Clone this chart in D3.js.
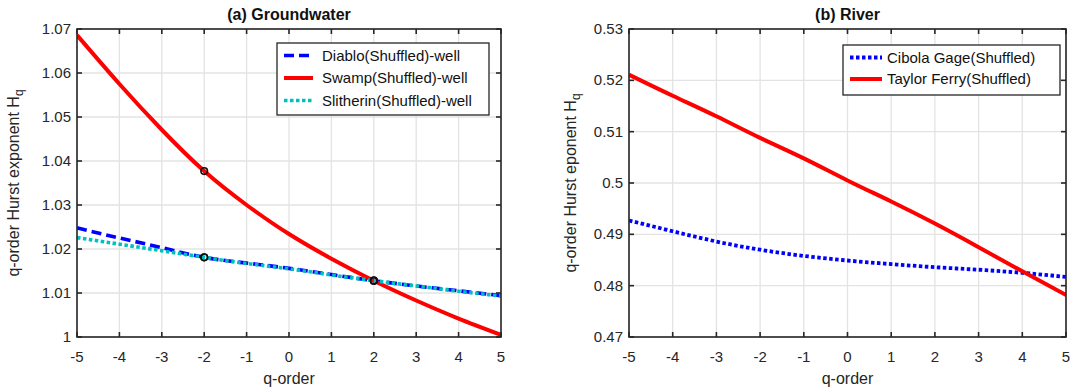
<!DOCTYPE html>
<html>
<head>
<meta charset="utf-8">
<script src="https://cdn.jsdelivr.net/npm/d3@7"></script>
<style>
  body { margin: 0; background: #fff; }
  svg { display: block; font-family: 'Liberation Sans', Arial, sans-serif; }
</style>
</head>
<body>
<div id="chart"></div>
<script>
// q values on the x axis
const qValues = [-5, -4, -3, -2, -1, 0, 1, 2, 3, 4, 5];
const qTicks = [-5, -4, -3, -2, -1, 0, 1, 2, 3, 4, 5];

// (a) Groundwater series
const diabloHq = [1.0248, 1.0225, 1.0203, 1.0181, 1.0168, 1.0156, 1.0142, 1.0128, 1.0116, 1.0105, 1.0094];
const swampHq = [1.0686, 1.0575, 1.0471, 1.0377, 1.0300, 1.0234, 1.0178, 1.0128, 1.0083, 1.0042, 1.0005];
const slitherinHq = [1.0226, 1.0211, 1.0196, 1.0181, 1.0167, 1.0155, 1.0141, 1.0128, 1.0116, 1.0104, 1.0093];
const gwTicksY = [1, 1.01, 1.02, 1.03, 1.04, 1.05, 1.06, 1.07];
const markerQ = [-2, 2];

// (b) River series
const cibolaHq = [0.4927, 0.4906, 0.4886, 0.4870, 0.4858, 0.4849, 0.4842, 0.4836, 0.4831, 0.4825, 0.4817];
const taylorHq = [0.5211, 0.5170, 0.5130, 0.5088, 0.5048, 0.5005, 0.4964, 0.4921, 0.4875, 0.4828, 0.4782];
const riverTicksY = [0.47, 0.48, 0.49, 0.5, 0.51, 0.52, 0.53];

const width = 1080;
const height = 389;
const axisColor = '#262626';

const svg = d3.select('#chart')
  .append('svg')
  .attr('width', width)
  .attr('height', height);

svg.append('rect').attr('width', width).attr('height', height).attr('fill', '#fff');

function drawPanel(p) {
  const x = d3.scaleLinear().domain([-5, 5]).range([p.left, p.right]);
  const y = d3.scaleLinear().domain(p.yDomain).range([p.bottom, p.top]);
  const g = svg.append('g');

  // grid
  g.selectAll('.gx').data(qTicks).enter().append('line')
    .attr('x1', (d) => x(d)).attr('x2', (d) => x(d))
    .attr('y1', p.top).attr('y2', p.bottom)
    .attr('stroke', '#e3e3e3').attr('stroke-width', 1.3);
  g.selectAll('.gy').data(p.yTicks).enter().append('line')
    .attr('x1', p.left).attr('x2', p.right)
    .attr('y1', (d) => y(d)).attr('y2', (d) => y(d))
    .attr('stroke', '#e3e3e3').attr('stroke-width', 1.3);

  // series
  const line = d3.line()
    .x((d, i) => x(qValues[i]))
    .y((d) => y(d))
    .curve(d3.curveNatural);

  const clipId = 'clip-' + p.id;
  svg.append('clipPath').attr('id', clipId).append('rect')
    .attr('x', p.left).attr('y', p.top - 2)
    .attr('width', p.right - p.left).attr('height', p.bottom - p.top + 4);

  p.series.forEach((s) => {
    g.append('path')
      .datum(s.values)
      .attr('clip-path', `url(#${clipId})`)
      .attr('d', line)
      .attr('fill', 'none')
      .attr('stroke', s.color)
      .attr('stroke-width', s.width)
      .attr('stroke-dasharray', s.dash || null);
  });

  // markers
  if (p.markers) {
    p.series.forEach((s) => {
      markerQ.forEach((q) => {
        const v = s.values[qValues.indexOf(q)];
        g.append('circle')
          .attr('cx', x(q)).attr('cy', y(v)).attr('r', 3.3)
          .attr('fill', 'none')
          .attr('stroke', '#111').attr('stroke-width', 1.6);
      });
    });
  }

  // box
  g.append('rect')
    .attr('x', p.left).attr('y', p.top)
    .attr('width', p.right - p.left).attr('height', p.bottom - p.top)
    .attr('fill', 'none').attr('stroke', axisColor).attr('stroke-width', 1.6);

  // ticks inside, all four sides
  const tl = 5;
  qTicks.forEach((d) => {
    g.append('line').attr('x1', x(d)).attr('x2', x(d)).attr('y1', p.bottom).attr('y2', p.bottom - tl)
      .attr('stroke', axisColor).attr('stroke-width', 1.6);
    g.append('line').attr('x1', x(d)).attr('x2', x(d)).attr('y1', p.top).attr('y2', p.top + tl)
      .attr('stroke', axisColor).attr('stroke-width', 1.6);
  });
  p.yTicks.forEach((d) => {
    g.append('line').attr('x1', p.left).attr('x2', p.left + tl).attr('y1', y(d)).attr('y2', y(d))
      .attr('stroke', axisColor).attr('stroke-width', 1.6);
    g.append('line').attr('x1', p.right).attr('x2', p.right - tl).attr('y1', y(d)).attr('y2', y(d))
      .attr('stroke', axisColor).attr('stroke-width', 1.6);
  });

  // tick labels
  g.selectAll('.xl').data(qTicks).enter().append('text')
    .attr('x', (d) => x(d)).attr('y', p.bottom + 25)
    .attr('text-anchor', 'middle')
    .attr('fill', axisColor).style('font-size', '15px')
    .text((d) => d);
  g.selectAll('.yl').data(p.yTicks).enter().append('text')
    .attr('x', p.left - 6).attr('y', (d) => y(d) + 5)
    .attr('text-anchor', 'end')
    .attr('fill', axisColor).style('font-size', '15px')
    .text((d) => String(+d.toFixed(2)));

  // x label
  g.append('text')
    .attr('x', (p.left + p.right) / 2).attr('y', 384)
    .attr('text-anchor', 'middle')
    .attr('fill', axisColor).style('font-size', '16px')
    .text('q-order');

  // y label with subscript
  const yl = g.append('text')
    .attr('transform', `translate(${p.yLabelX},${(p.top + p.bottom) / 2}) rotate(-90)`)
    .attr('text-anchor', 'middle')
    .attr('fill', axisColor).style('font-size', '16px');
  yl.append('tspan').text(p.yLabel);
  yl.append('tspan').attr('dy', 4).style('font-size', '12px').text('q');

  // title
  g.append('text')
    .attr('x', (p.left + p.right) / 2).attr('y', 20)
    .attr('text-anchor', 'middle')
    .attr('fill', '#111').style('font-size', '16px').style('font-weight', 'bold')
    .text(p.title);

  // legend
  const lg = p.legend;
  g.append('rect')
    .attr('x', lg.x).attr('y', lg.y).attr('width', lg.w).attr('height', lg.h)
    .attr('fill', '#fff').attr('stroke', axisColor).attr('stroke-width', 1.3);
  p.series.forEach((s, i) => {
    const cy = lg.y + 12.5 + i * lg.rowH;
    g.append('line')
      .attr('x1', lg.x + 7).attr('x2', lg.x + 7 + lg.lineLen)
      .attr('y1', cy).attr('y2', cy)
      .attr('stroke', s.color).attr('stroke-width', s.width)
      .attr('stroke-dasharray', s.dash || null);
    g.append('text')
      .attr('x', lg.x + lg.textOff).attr('y', cy + 5)
      .attr('fill', '#111').style('font-size', '15px')
      .text(s.name);
  });
}

drawPanel({
  id: 'gw',
  left: 77, right: 501, top: 29, bottom: 337,
  yDomain: [1, 1.07],
  yTicks: gwTicksY,
  title: '(a) Groundwater',
  yLabel: 'q-order Hurst exponent H',
  yLabelX: 19,
  markers: true,
  series: [
    { name: 'Diablo(Shuffled)-well', values: diabloHq, color: '#0000ff', width: 3.6, dash: '10,5' },
    { name: 'Swamp(Shuffled)-well', values: swampHq, color: '#ff0000', width: 4 },
    { name: 'Slitherin(Shuffled)-well', values: slitherinHq, color: '#00bfbf', width: 3.6, dash: '3.5,2.5' }
  ],
  legend: { x: 277, y: 43, w: 212, h: 72, rowH: 22.5, lineLen: 29, textOff: 45 }
});

drawPanel({
  id: 'river',
  left: 629, right: 1066, top: 29, bottom: 337,
  yDomain: [0.47, 0.53],
  yTicks: riverTicksY,
  title: '(b) River',
  yLabel: 'q-order Hurst eponent H',
  yLabelX: 576,
  markers: false,
  series: [
    { name: 'Cibola Gage(Shuffled)', values: cibolaHq, color: '#0000ff', width: 3.8, dash: '3.5,2.5' },
    { name: 'Taylor Ferry(Shuffled)', values: taylorHq, color: '#ff0000', width: 4 }
  ],
  legend: { x: 843, y: 45, w: 217, h: 50, rowH: 21.5, lineLen: 32, textOff: 44 }
});
</script>
</body>
</html>
